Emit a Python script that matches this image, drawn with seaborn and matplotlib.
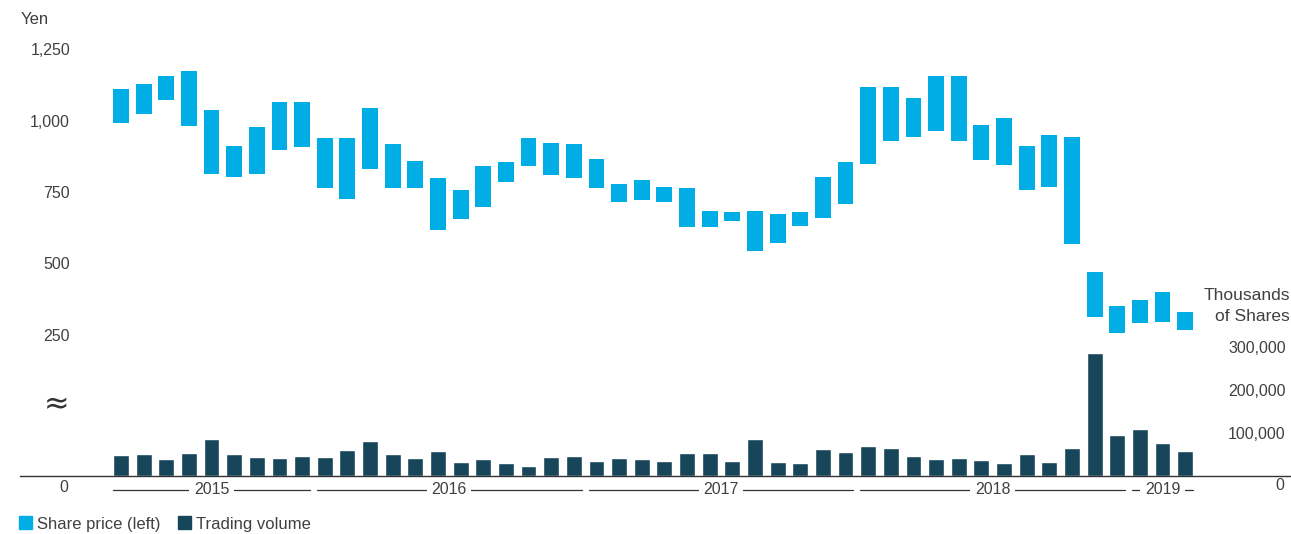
import numpy as np
import pandas as pd
import matplotlib
matplotlib.use("Agg")
import matplotlib.pyplot as plt
from matplotlib.patches import Patch
import seaborn as sns

# ---------------- data ----------------
months = [str(p) for p in pd.period_range("2015-04", "2019-03", freq="M")]

price_top = [1111, 1129, 1157, 1174, 1037, 911, 978, 1065, 1065, 939,
             939, 1044, 918, 859, 799, 757, 841, 855, 939, 922,
             918, 866, 778, 792, 768, 764, 683, 680, 683, 673,
             680, 803, 855, 1118, 1118, 1080, 1157, 1157, 985, 1009,
             911, 950, 943, 470, 350, 371, 399, 329]
price_bottom = [992, 1023, 1073, 981, 813, 803, 813, 897, 908, 764,
                726, 831, 764, 764, 617, 655, 698, 785, 841, 810,
                799, 764, 715, 722, 715, 627, 627, 648, 543, 571,
                631, 659, 708, 848, 929, 943, 964, 929, 862, 845,
                757, 768, 568, 312, 256, 291, 294, 267]
volume = [49000, 52000, 40000, 54000, 86000, 52000, 45000, 42000, 47000, 45000,
          61000, 82000, 52000, 42000, 58000, 33000, 40000, 31000, 24000, 45000,
          47000, 35000, 42000, 40000, 35000, 54000, 54000, 35000, 86000, 33000,
          31000, 63000, 56000, 70000, 65000, 47000, 40000, 42000, 38000, 31000,
          52000, 33000, 65000, 286000, 95000, 109000, 77000, 58000]

year_labels = ["2015", "2016", "2017", "2018", "2019"]
year_first = [0, 9, 21, 33, 45]
year_last = [8, 20, 32, 44, 47]

price_ticks = [250, 500, 750, 1000, 1250]
volume_ticks = [100000, 200000, 300000]

BLUE = "#00AEE5"
DARK = "#17455A"
TXT = "#404040"
FS = 11.5

# ---------------- style ----------------
sns.set_theme(style="white")
plt.rcParams["font.family"] = ["Liberation Sans", "DejaVu Sans"]
plt.rcParams["font.size"] = FS
plt.rcParams["text.color"] = TXT
plt.rcParams["xtick.color"] = TXT
plt.rcParams["ytick.color"] = TXT

W, H = 1291, 534
fig = plt.figure(figsize=(W / 100, H / 100), dpi=100)
ax_vol = fig.add_axes([20 / W, (H - 476) / H, 1270 / W, 476 / H])

df = pd.DataFrame({"month": months, "volume": volume,
                   "top": price_top, "bottom": price_bottom})

sns.barplot(data=df, x="month", y="volume", ax=ax_vol, color=DARK,
            saturation=1, width=0.7)
ax_vol.set_ylim(0, 476 / 43.0 * 100000)

ax_price = ax_vol.twinx()
pos = np.arange(len(months))
ax_price.bar(pos, df["top"] - df["bottom"], bottom=df["bottom"], width=0.7,
             color=BLUE, linewidth=0)
ax_price.set_ylim(-245.3, 1423)

for a in (ax_vol, ax_price):
    a.set_xlim(-4.46, 51.63)
    a.set_xticks([])
    a.set_xlabel("")
    a.set_ylabel("")
    for s in a.spines.values():
        s.set_visible(False)
    a.patch.set_alpha(0)
ax_vol.spines["bottom"].set_visible(True)
ax_vol.spines["bottom"].set_color("#333333")
ax_vol.spines["bottom"].set_linewidth(1.0)

# left price ticks
ax_price.yaxis.tick_left()
ax_price.set_yticks(price_ticks)
ax_price.set_yticklabels([f"{v:,}" for v in price_ticks])
ax_price.tick_params(axis="y", length=0, pad=-36, labelsize=FS, labelcolor=TXT)

# right volume ticks
ax_vol.yaxis.tick_right()
ax_vol.set_yticks(volume_ticks)
ax_vol.set_yticklabels([f"{v:,}" for v in volume_ticks])
ax_vol.tick_params(axis="y", length=0, pad=-3, labelsize=FS, labelcolor=TXT)
for lbl in ax_vol.get_yticklabels():
    lbl.set_ha("right")

# fiscal year labels
yl = -(490 - 476) / 476
tr = ax_vol.get_xaxis_transform()
for lab, s, e in zip(year_labels, year_first, year_last):
    ax_vol.plot([s - 0.35, e + 0.35], [yl, yl], transform=tr, clip_on=False,
                color="#333333", lw=0.9, zorder=2)
    ax_vol.text((s + e) / 2, yl, lab, transform=tr, ha="center", va="center",
                fontsize=FS, color=TXT, zorder=4,
                bbox=dict(facecolor="white", edgecolor="none",
                          boxstyle="square,pad=0.28"))

# extra texts
fig.text(21 / W, 1 - 20 / H, "Yen", ha="left", va="center", fontsize=12)
fig.text(64 / W, 1 - 487 / H, "0", ha="center", va="center", fontsize=FS)
fig.text(1284 / W, 1 - 485 / H, "0", ha="right", va="center", fontsize=FS)
fig.text(1290 / W, 1 - 306 / H, "Thousands\nof Shares", ha="right",
         va="center", multialignment="right", fontsize=12.5, linespacing=1.55)
fig.text(57 / W, 1 - 405 / H, "≈", ha="center", va="center", fontsize=22,
         color="#333333", family=["DejaVu Sans"])

fig.legend(handles=[Patch(color=BLUE, label="Share price (left)"),
                    Patch(color=DARK, label="Trading volume")],
           loc="center left", bbox_to_anchor=(19 / W, 1 - 524 / H), ncol=2,
           frameon=False, handlelength=0.8, handleheight=0.8,
           handletextpad=0.3, columnspacing=1.0, borderpad=0,
           borderaxespad=0, fontsize=12)

fig.savefig("out.png", dpi=100)
